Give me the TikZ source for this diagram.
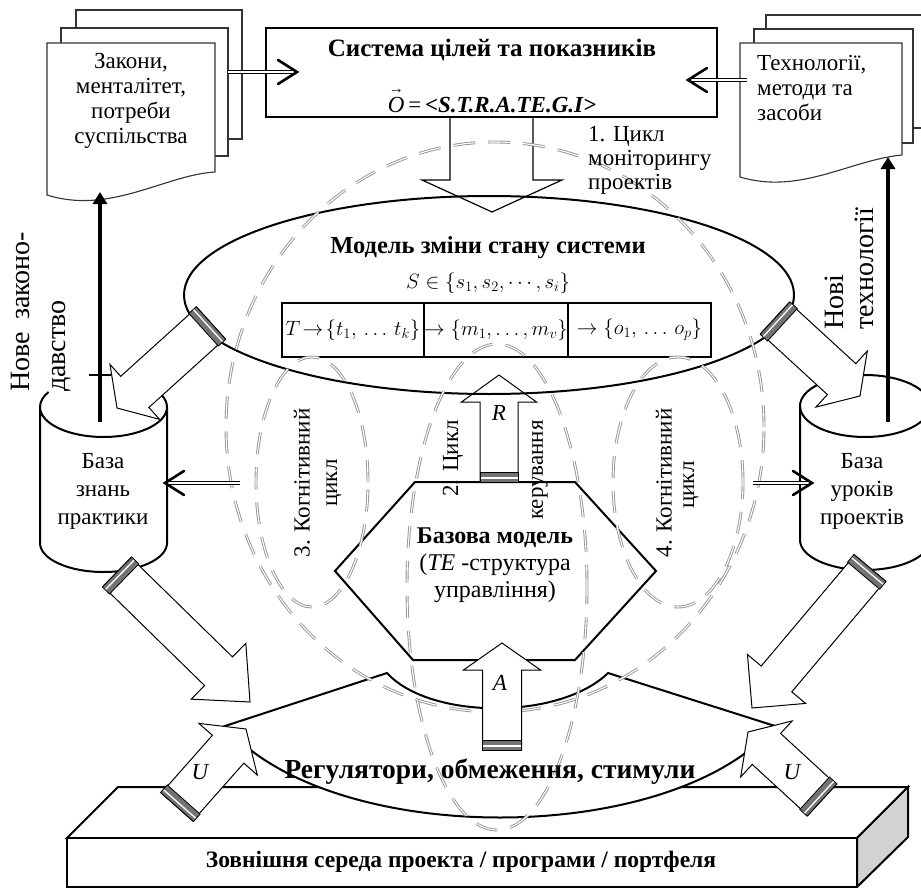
\documentclass[tikz,border=0pt]{standalone}
\usepackage{fontspec}
\setmainfont{Liberation Serif}
\usetikzlibrary{calc,arrows.meta}
\newcommand{\myblockarrow}[6]{%
  \coordinate (ba-h) at ($(#2)!#5!(#1)$);
  \draw[#6] ($(#1)!#3!90:(#2)$) -- ($(ba-h)!#3!90:(#2)$) -- ($(ba-h)!#4!90:(#2)$) -- (#2)
     -- ($(ba-h)!#4!-90:(#2)$) -- ($(ba-h)!#3!-90:(#2)$) -- ($(#1)!#3!-90:(#2)$) -- cycle;}
\newcommand{\myband}[3]{%
  \coordinate (bd-a) at ($(#1)!4pt!(#2)$);
  \coordinate (bd-b) at ($(#1)!10pt!(#2)$);
  \fill[black!55] ($(#1)!#3!90:(#2)$) -- ($(#1)!#3!-90:(#2)$) -- ($(bd-b)!#3!-90:(#2)$) -- ($(bd-b)!#3!90:(#2)$) -- cycle;
  \draw[white, line width=1.3pt] ($(bd-a)!#3!90:(#2)$) -- ($(bd-a)!#3!-90:(#2)$);
  \draw[line width=0.8pt] ($(#1)!#3!90:(#2)$) -- ($(#1)!#3!-90:(#2)$) -- ($(bd-b)!#3!-90:(#2)$) -- ($(bd-b)!#3!90:(#2)$) -- cycle;}
\begin{document}
\begin{tikzpicture}[x=1pt,y=-1pt,
  every node/.style={inner sep=0pt},
  txt/.style={font=\fontsize{23}{25}\selectfont, align=center},
  btxt/.style={font=\fontsize{24.5}{26}\selectfont\bfseries, align=center},
  rtxt/.style={rotate=90, font=\fontsize{23}{25}\selectfont},
  thinl/.style={line width=1.2pt, draw=black},
  thickl/.style={line width=2pt, draw=black},
  docl/.style={line width=1.1pt, draw=black!80, fill=white},
  barr/.style={line width=1pt, draw=black, fill=white},
  cyc/.style={draw=black!42, double=white, double distance=1.1pt, line width=0.9pt, dash pattern=on 22pt off 13pt},
  dbl/.style={draw=black, double=white, double distance=1.6pt, line width=0.8pt},
  chev/.style={line width=2.6pt, line cap=round},
  varr/.style={line width=4.5pt, -{Triangle[length=12pt,width=14pt]}},
]
\useasboundingbox (0,0) rectangle (921,888);
\clip (0,0) rectangle (921,888);
\fill[white] (0,0) rectangle (921,888);

% slab
\draw[thickl, fill=white] (67,838) -- (118,787) -- (908,787) -- (857,838) -- cycle;
\draw[thickl, fill=gray!35] (857,838) -- (908,787) -- (908,837) -- (857,887) -- cycle;
\draw[thickl, fill=white] (67,838) rectangle (857,887);

% bow
\draw[thickl, fill=white] (225,726) -- (387,673) .. controls (430,720) and (560,720) .. (608,673)
  -- (775,726) .. controls (670,848) and (330,848) .. cycle;

% documents
\draw[docl] (76,10) rectangle (242,139);
\draw[docl] (61,28) rectangle (228,156);
\draw[docl] (47,43) -- (215,43) -- (215,172) .. controls (165,175) and (110,215) .. (47,195) -- cycle;
\draw[docl] (766,15) rectangle (935,128);
\draw[docl] (754,29) rectangle (913,143);
\draw[docl] (740,43) -- (902,43) -- (902,155) .. controls (850,160) and (800,195) .. (740,177) -- cycle;

% goal system box
\draw[thinl, fill=white] (266,28) rectangle (717,117);
\draw[thinl] (450,117) -- (450,180) -- (422,180) -- (492,212) -- (562,180) -- (533,180) -- (533,117);

% hexagon
\draw[thickl, fill=white] (415,482) -- (575,482) -- (656,571) -- (575,660) -- (413,660) -- (335,571) -- cycle;

% state model ellipse
\draw[thickl] (489,295) ellipse[x radius=305pt, y radius=99pt];
\draw[line width=1.3pt] (282,303) rectangle (711,357);
\draw[line width=1.3pt] (424,303) -- (424,357);
\draw[line width=1.3pt] (568,303) -- (568,357);

% cylinders
\draw[thickl, fill=white] (40,407) -- (40,543) arc[start angle=180, end angle=360, x radius=63.5pt, y radius=29pt] -- (167,407)
  arc[start angle=360, end angle=180, x radius=63.5pt, y radius=30pt];
\draw[thickl] (40,407) arc[start angle=180, end angle=150, x radius=63.5pt, y radius=30pt];
\draw[thickl] (167,407) arc[start angle=0, end angle=25, x radius=63.5pt, y radius=30pt];
\draw[thickl, fill=white] (800,406) -- (800,540) arc[start angle=180, end angle=360, x radius=65pt, y radius=30pt] -- (930,406);
\draw[thickl] (865,406) ellipse[x radius=65pt, y radius=31pt];

% block arrows
\coordinate (ul-t) at (211,323); \coordinate (ul-p) at (117,408);
\coordinate (ur-t) at (775,318); \coordinate (ur-p) at (860,396);
\coordinate (ll-t) at (117,572); \coordinate (ll-p) at (250,702);
\coordinate (lr-t) at (870,568); \coordinate (lr-p) at (752,708);
\coordinate (ul2-t) at (177,807); \coordinate (ul2-p) at (246,729);
\coordinate (ur2-t) at (822,800); \coordinate (ur2-p) at (748,732);
\myblockarrow{ul-t}{ul-p}{21pt}{37pt}{24pt}{barr}
\myband{ul-t}{ul-p}{22pt}
\myblockarrow{ur-t}{ur-p}{21pt}{38pt}{25pt}{barr}
\myband{ur-t}{ur-p}{22pt}
\myblockarrow{ll-t}{ll-p}{20pt}{39pt}{44pt}{barr}
\myband{ll-t}{ll-p}{21pt}
\myblockarrow{lr-t}{lr-p}{20pt}{38pt}{38pt}{barr}
\myband{lr-t}{lr-p}{21pt}
\myblockarrow{ul2-t}{ul2-p}{21pt}{39pt}{27pt}{barr}
\myband{ul2-t}{ul2-p}{22pt}
\myblockarrow{ur2-t}{ur2-p}{21pt}{38pt}{25pt}{barr}
\myband{ur2-t}{ur2-p}{22pt}

% cycles
\draw[cyc] (495,427) ellipse[x radius=269pt, y radius=285pt];
\draw[cyc] (497,587) ellipse[x radius=90pt, y radius=243pt];
\draw[cyc] (312,482) ellipse[x radius=56pt, y radius=125pt];
\draw[cyc] (678,482) ellipse[x radius=65pt, y radius=125pt];

% R and A arrows
\coordinate (r-t) at (499,482); \coordinate (r-p) at (499,375);
\coordinate (a-t) at (502,750); \coordinate (a-p) at (502,643);
\myblockarrow{r-t}{r-p}{19pt}{37.5pt}{27pt}{line width=1pt}
\myband{r-t}{r-p}{19pt}
\myblockarrow{a-t}{a-p}{19.5pt}{38.5pt}{27pt}{barr}
\myband{a-t}{a-p}{19.5pt}

% double arrows
\coordinate (d1s) at (228,72); \coordinate (d1e) at (297,72);
\coordinate (d2s) at (747,80); \coordinate (d2e) at (688,80);
\coordinate (d3s) at (240,483); \coordinate (d3e) at (165,483);
\coordinate (d4s) at (753,483); \coordinate (d4e) at (812,483);
\draw[dbl, shorten >=3pt] (d1s) -- (d1e);
\draw[chev] ($(d1e)+(-19,-12)$) -- (d1e) -- ($(d1e)+(-19,12)$);
\draw[dbl, shorten >=3pt] (d2s) -- (d2e);
\draw[chev] ($(d2e)+(19,-12)$) -- (d2e) -- ($(d2e)+(19,12)$);
\draw[dbl, shorten >=3pt] (d3s) -- (d3e);
\draw[chev] ($(d3e)+(19,-12)$) -- (d3e) -- ($(d3e)+(19,12)$);
\draw[dbl, shorten >=3pt] (d4s) -- (d4e);
\draw[chev] ($(d4e)+(-19,-12)$) -- (d4e) -- ($(d4e)+(-19,12)$);

% vertical arrows
\coordinate (v1s) at (100,422); \coordinate (v1e) at (100,192);
\coordinate (v2s) at (888,422); \coordinate (v2e) at (888,157);
\draw[varr] (v1s) -- (v1e);
\draw[varr] (v2s) -- (v2e);
\draw[line width=1.5pt] (89,375) -- (111,375);

% texts
\node[txt] (t-zak) at (131,101) {Закони,\\менталітет,\\потреби\\суспільства};
\node[txt, align=left, anchor=west] (t-tech) at (757,88) {Технології,\\методи та\\засоби};
\node[btxt, font=\fontsize{25}{27}\selectfont\bfseries] (t-sys) at (492,50) {Система цілей та показників};
\node[txt, font=\fontsize{23}{25}\selectfont] (t-o) at (492,101) {\makebox[0pt][l]{\raisebox{0.86em}{\fontsize{15}{15}\selectfont\hspace{1pt}→}}\textit{O}\,=\,\textbf{\textit{<S.T.R.A.TE.G.I>}}};
\node[txt, align=left, anchor=west, font=\fontsize{23}{24}\selectfont] (t-c1) at (588,160) {1. Цикл\\моніторингу\\проектів};
\node[btxt] (t-mod) at (488,248) {Модель зміни стану системи};
\node[txt, font=\fontsize{20}{24}\selectfont] (t-s) at (488,283) {$S\in\{s_1,s_2,\cdots,s_i\}$};
\node[txt, font=\fontsize{21}{24}\selectfont] (t-c1a) at (353,330) {$T\!\rightarrow\!\{t_1,\,\ldots\,t_k\}$};
\node[txt, font=\fontsize{21}{24}\selectfont] (t-c1b) at (496,330) {$\rightarrow\{m_1,\ldots,m_v\}$};
\node[txt, font=\fontsize{21}{24}\selectfont] (t-c1c) at (639.5,330) {$\rightarrow\{o_1,\,\ldots\,o_p\}$};
\node[txt, font=\fontsize{24}{27}\selectfont] (t-base) at (495,565) {\textbf{Базова модель}\\(\textit{TE} -структура\\управління)};
\node[txt, font=\fontsize{23}{28}\selectfont] (t-bz) at (103,491) {База\\знань\\практики};
\node[txt, font=\fontsize{23}{28}\selectfont] (t-bu) at (862,491) {База\\уроків\\проектів};
\node[btxt, font=\fontsize{27.5}{29}\selectfont\bfseries] (t-reg) at (490,772) {Регулятори, обмеження, стимули};
\node[btxt, font=\fontsize{23.5}{25}\selectfont\bfseries] (t-env) at (461,862) {Зовнішня середа проекта / програми / портфеля};
\node[font=\fontsize{23}{25}\selectfont\itshape] (t-r) at (499,413) {R};
\node[font=\fontsize{23}{25}\selectfont\itshape] (t-a) at (500,683) {A};
\node[font=\fontsize{23}{25}\selectfont\itshape] (t-u1) at (200,772) {U};
\node[font=\fontsize{23}{25}\selectfont\itshape] (t-u2) at (792,772) {U};
\node[rotate=90, anchor=west, align=left, font=\fontsize{28}{36}\selectfont] (t-nove) at (41,392) {\makebox[160pt][s]{Нове\hfill законо-}\\давство};
\node[rotate=90, anchor=west, align=left, font=\fontsize{28}{30}\selectfont] (t-novi) at (849,330) {Нові\\технології};
\node[rtxt] (t-c3a) at (302,483) {3. Когнітивний};
\node[rtxt] (t-c3b) at (334,483) {цикл};
\node[rtxt] (t-c4a) at (664,483) {4. Когнітивний};
\node[rtxt] (t-c4b) at (691,485) {цикл};
\node[rtxt, anchor=east] (t-c2a) at (453,420) {2. Цикл};
\node[rtxt, anchor=east] (t-c2b) at (540,420) {керування};
\end{tikzpicture}
\end{document}
